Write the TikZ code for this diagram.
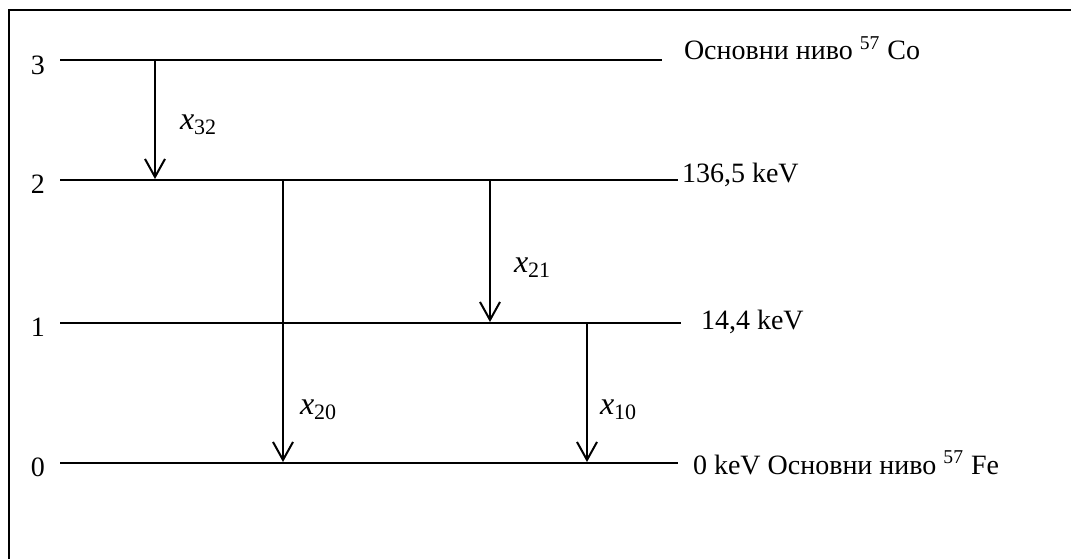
\documentclass[tikz,border=0pt]{standalone}
\usepackage{fontspec}
\setmainfont{Liberation Serif}
\usetikzlibrary{arrows.meta}
\newcommand{\trlab}[1]{\fontsize{16}{18}\selectfont\textit{x}\raisebox{-0.35ex}{\fontsize{11}{12}\selectfont #1}}
\begin{document}
\begin{tikzpicture}[x=0.5pt,y=-0.5pt,line width=1pt,
  font=\fontsize{14}{16}\selectfont,
  level/.style={draw},
  trans/.style={draw,-{Straight Barb[length=9pt,width=10pt,line width=1pt]}},
  lbl/.style={inner sep=0pt,anchor=west}]
\useasboundingbox (0,0) rectangle (1071,559);
\draw (9,559) -- (9,10) -- (1071,10);
% levels
\coordinate (l3a) at (60,60); \coordinate (l3b) at (662,60);
\coordinate (l2a) at (60,180); \coordinate (l2b) at (678,180);
\coordinate (l1a) at (60,323); \coordinate (l1b) at (681,323);
\coordinate (l0a) at (60,463); \coordinate (l0b) at (678,463);
\draw[level](l3a) -- (l3b);
\draw[level](l2a) -- (l2b);
\draw[level](l1a) -- (l1b);
\draw[level](l0a) -- (l0b);
\node[lbl] (n3) at (30,65){3};
\node[lbl] (n2) at (30,184){2};
\node[lbl] (n1) at (30,327){1};
\node[lbl] (n0) at (30,467){0};
\node[lbl] (e3) at (683,48){Основни ниво \textsuperscript{57} Co};
\node[lbl] (e2) at (681,175){136,5 keV};
\node[lbl] (e1) at (700,322){14,4 keV};
\node[lbl] (e0) at (692,463){0 keV Основни ниво \textsuperscript{57} Fe};
% transitions
\coordinate (t32a) at (155,60); \coordinate (t32b) at (155,179);
\coordinate (t20a) at (283,180); \coordinate (t20b) at (283,462);
\coordinate (t21a) at (490,180); \coordinate (t21b) at (490,322);
\coordinate (t10a) at (587,323); \coordinate (t10b) at (587,462);
\draw[trans](t32a) -- (t32b);
\draw[trans](t20a) -- (t20b);
\draw[trans](t21a) -- (t21b);
\draw[trans](t10a) -- (t10b);
\node[lbl] (x32) at (179,125){\trlab{32}};
\node[lbl] (x20) at (299,410){\trlab{20}};
\node[lbl] (x21) at (513,268){\trlab{21}};
\node[lbl] (x10) at (599,410){\trlab{10}};
\end{tikzpicture}
\end{document}
